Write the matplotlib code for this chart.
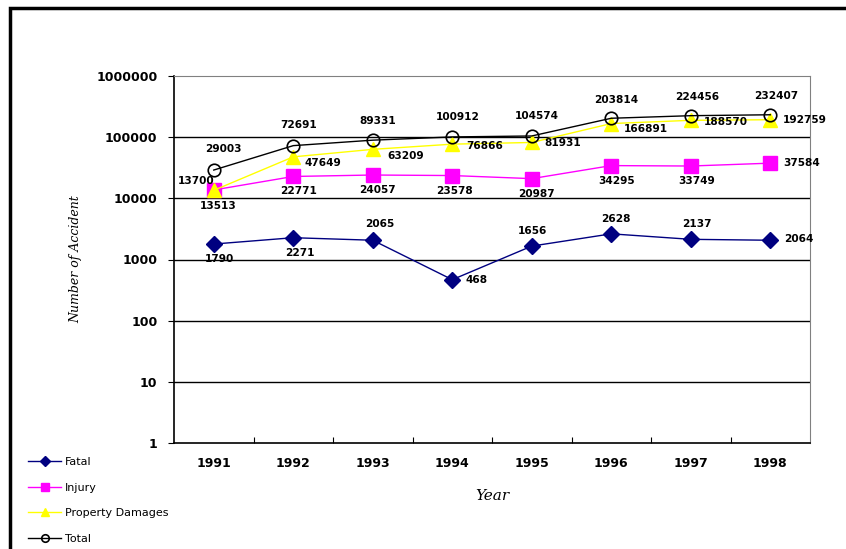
import matplotlib.pyplot as plt
from matplotlib.patches import Rectangle

years = ["1991", "1992", "1993", "1994", "1995", "1996", "1997", "1998"]
fatal = [1790, 2271, 2065, 468, 1656, 2628, 2137, 2064]
injury = [13700, 22771, 24057, 23578, 20987, 34295, 33749, 37584]
property_damages = [13513, 47649, 63209, 76866, 81931, 166891, 188570, 192759]
total = [29003, 72691, 89331, 100912, 104574, 203814, 224456, 232407]

# label offsets in pixels (dx, dy), screen y up
fatal_off = [(6, -15), (7, -15), (7, 16), (24, 0), (1, 15), (5, 15), (6, 15), (29, 1)]
injury_off = [(-18, 9), (5, -15), (5, -15), (2, -15), (5, -15), (5, -15), (6, -15), (31, 0)]
property_off = [(4, -16), (30, -6), (33, -7), (32, -2), (31, -1), (35, -5), (35, -2), (34, 0)]
total_off = [(10, 21), (5, 21), (5, 19), (5, 20), (5, 20), (5, 18), (6, 19), (6, 19)]

fig = plt.figure(figsize=(8.46, 5.49), dpi=100)
ax = fig.add_axes([174 / 846, 1 - 443 / 549, 636 / 846, 367 / 549])

x = list(range(len(years)))
l1, = ax.plot(x, fatal, color="#000080", lw=1, marker="D", ms=8, mec="#000080", mfc="#000080", label="Fatal")
l2, = ax.plot(x, injury, color="#FF00FF", lw=1, marker="s", ms=10, mec="#FF00FF", mfc="#FF00FF", label="Injury")
l3, = ax.plot(x, property_damages, color="#FFFF00", lw=1, marker="^", ms=10, mec="#FFFF00", mfc="#FFFF00", label="Property Damages")
l4, = ax.plot(x, total, color="black", lw=1, marker="o", ms=9, mec="black", mfc="none", mew=1.2, label="Total")

ax.set_yscale("log")
ax.set_ylim(1, 1000000)
ax.set_xlim(-0.5, 7.5)
ax.set_yticks([1, 10, 100, 1000, 10000, 100000, 1000000])
ax.set_yticklabels(["1", "10", "100", "1000", "10000", "100000", "1000000"])
ax.minorticks_off()
ax.set_xticks(x)
ax.set_xticklabels(years)
ax.set_xticks([i + 0.5 for i in range(7)], minor=True)
ax.tick_params(axis="x", which="major", length=0, pad=10)
ax.tick_params(axis="x", which="minor", direction="in", length=4, width=0.8)
ax.tick_params(axis="y", which="major", direction="out", length=4, width=0.8, pad=8)
for lab in ax.get_xticklabels() + ax.get_yticklabels():
    lab.set_fontweight("bold")
    lab.set_fontsize(9)
    lab.set_family("DejaVu Sans")

for yv in [10, 100, 1000, 10000, 100000]:
    ax.axhline(yv, color="black", lw=1, zorder=0)
ax.spines["top"].set_color("#808080")
ax.spines["right"].set_color("#808080")
ax.spines["left"].set_linewidth(1.2)
ax.spines["bottom"].set_linewidth(1.2)

ax.set_ylabel("Number of Accident", family="DejaVu Serif", style="italic", fontsize=9, labelpad=0)
ax.yaxis.set_label_coords(-0.145, 0.5)
ax.set_xlabel("Year", family="DejaVu Serif", style="italic", fontsize=11)
ax.xaxis.set_label_coords(0.5, -0.124)

px = 72 / 100
for series, offs in [(fatal, fatal_off), (injury, injury_off),
                     (property_damages, property_off), (total, total_off)]:
    for i, (v, (dx, dy)) in enumerate(zip(series, offs)):
        ax.annotate(str(v), (i, v), xytext=(dx * px, dy * px), textcoords="offset points",
                    ha="center", va="center", fontsize=7.6, fontweight="bold",
                    family="DejaVu Sans", annotation_clip=False)

leg = ax.legend(handles=[l1, l2, l3, l4], loc="upper left",
                bbox_to_anchor=(28 / 846, 1 - 457 / 549), bbox_transform=fig.transFigure,
                frameon=False, fontsize=8, handlelength=3.0, handletextpad=0.3,
                labelspacing=1.4, borderpad=0, borderaxespad=0, markerscale=0.6)

# outer frame around the chart
fig.patches.append(Rectangle((9.5 / 846, -0.1), 1.2, 1 - 8 / 549 + 0.1, transform=fig.transFigure,
                             fill=False, ec="black", lw=2.5, clip_on=False))

fig.savefig("out.png", dpi=100)
